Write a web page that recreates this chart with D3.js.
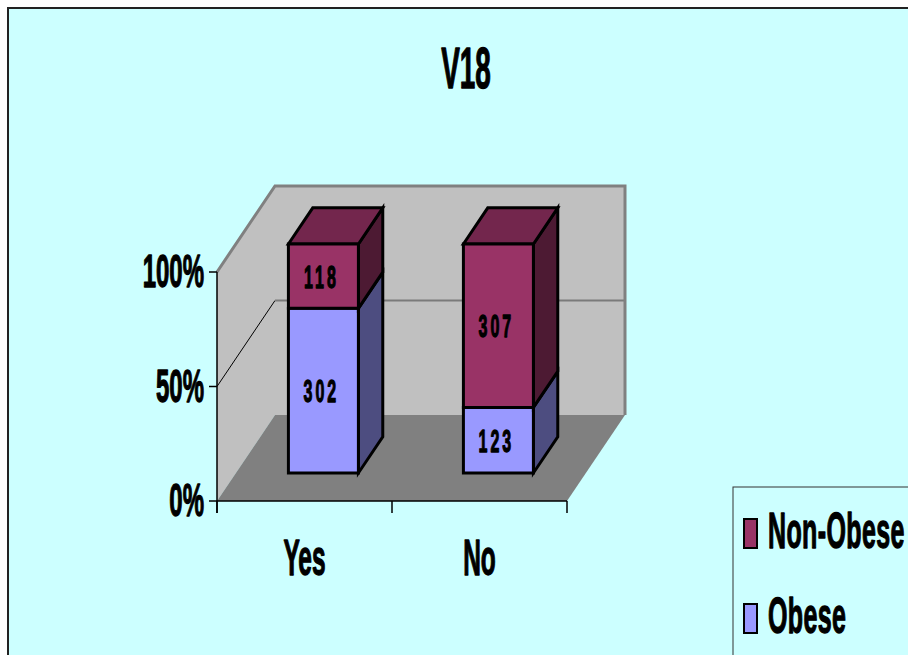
<!DOCTYPE html>
<html>
<head>
<meta charset="utf-8">
<script src="https://cdn.jsdelivr.net/npm/d3@7"></script>
<style>
  html, body { margin: 0; padding: 0; background: #ffffff; }
  svg { display: block; }
  text { font-family: "Liberation Sans", Arial, sans-serif; font-weight: bold; fill: #000;
         stroke: #000; stroke-width: 1.3px; stroke-linejoin: round; }
</style>
</head>
<body>
<script>
// ---- data ----
const chartTitle = "V18";
const categories = ["Yes", "No"];
const obese = [302, 123];
const nonObese = [118, 307];
const seriesKeys = ["obese", "nonObese"];
const seriesNames = { obese: "Obese", nonObese: "Non-Obese" };
const legendOrder = ["nonObese", "obese"];
const yTickValues = [0, 0.5, 1];

// ---- look ----
const W = 908, H = 655;
const colors = {
  obese:    { front: "#9999FF", side: "#4D4D80", top: "#7373BF" },
  nonObese: { front: "#993366", side: "#4D1A33", top: "#73264D" }
};
const depthDX = 58, depthDY = -86;      // oblique offset of the full floor depth
const barDepth = [0.326, 0.746];        // bar front / back as fraction of floor depth

const svg = d3.select("body").append("svg")
  .attr("width", W).attr("height", H);

// chart area
svg.append("rect")
  .attr("x", 8).attr("y", 8).attr("width", W + 20).attr("height", H + 20)
  .attr("fill", "#CCFFFF").attr("stroke", "#222").attr("stroke-width", 2);

// scales
const x = d3.scaleBand().domain(categories).range([217, 567]).padding(0);
const y = d3.scaleLinear().domain([0, 1]).range([501, 272]);

const rows = categories.map((c, i) => ({ cat: c, obese: obese[i], nonObese: nonObese[i] }));
const stacked = d3.stack().keys(seriesKeys).offset(d3.stackOffsetExpand)(rows);

const P = (px, py, t) => [px + depthDX * t, py + depthDY * t];
const poly = pts => "M" + pts.map(p => p.join(",")).join("L") + "Z";

const x0 = x.range()[0], x1 = x.range()[1];
const g = svg.append("g");

// back wall
const bw = [P(x0, y(1), 1), P(x1, y(1), 1), P(x1, y(0), 1), P(x0, y(0), 1)];
g.append("path").attr("d", poly(bw)).attr("fill", "#C0C0C0");
// left wall
g.append("path").attr("d", poly([[x0, y(0)], [x0, y(1)], P(x0, y(1), 1), P(x0, y(0), 1)]))
  .attr("fill", "#C0C0C0");
// floor
g.append("path").attr("d", poly([[x0, y(0)], P(x0, y(0), 1), P(x1, y(0), 1), [x1, y(0)]]))
  .attr("fill", "#808080");

// gridlines (mid value) on the walls
yTickValues.filter(v => v > 0 && v < 1).forEach(v => {
  const a = [x0, y(v)], b = P(x0, y(v), 1), c = P(x1, y(v), 1);
  g.append("line").attr("x1", a[0]).attr("y1", a[1]).attr("x2", b[0]).attr("y2", b[1])
    .attr("stroke", "#000").attr("stroke-width", 1);
  g.append("line").attr("x1", b[0]).attr("y1", b[1]).attr("x2", c[0]).attr("y2", c[1])
    .attr("stroke", "#7a7a7a").attr("stroke-width", 2);
});
// wall top and right edges
const topL = [x0, y(1)], topBL = P(x0, y(1), 1), topBR = P(x1, y(1), 1), botBR = P(x1, y(0), 1);
g.append("path").attr("d", "M" + [topL, topBL, topBR, botBR].map(p => p.join(",")).join("L"))
  .attr("fill", "none").attr("stroke", "#808080").attr("stroke-width", 3)
  .attr("stroke-linejoin", "miter");

// axes
const ax = svg.append("g").attr("stroke", "#000").attr("stroke-width", 1.5);
ax.append("line").attr("x1", x0).attr("x2", x0).attr("y1", y(1)).attr("y2", y(0) + 12);
ax.append("line").attr("x1", x0).attr("x2", x1).attr("y1", y(0)).attr("y2", y(0));
yTickValues.forEach(v => {
  ax.append("line").attr("x1", x0 - 8).attr("x2", x0).attr("y1", y(v)).attr("y2", y(v));
});
const bounds = categories.map(c => x(c)).concat([x1]);
bounds.forEach(bx => {
  ax.append("line").attr("x1", bx).attr("x2", bx).attr("y1", y(0)).attr("y2", y(0) + 12);
});

// condensed bold text helper
function label(parent, px, py, str, size, sx, anchor) {
  return parent.append("text")
    .attr("transform", `translate(${px},${py}) scale(${sx},1)`)
    .attr("text-anchor", anchor)
    .style("font-size", size + "px")
    .text(str);
}

// y tick labels
const pct = d3.format(".0%");
yTickValues.forEach(v => label(svg, x0 - 13, y(v) + 15, pct(v), 47, 0.51, "end"));

// category labels
categories.forEach(c => label(svg, x(c) + x.bandwidth() / 2, 575, c, 50, 0.49, "middle"));

// title
label(svg, 466, 88, chartTitle, 57, 0.49, "middle");

// bars
const bw0 = x.bandwidth() * 0.4;
const barsG = svg.append("g");
categories.forEach((c, ci) => {
  const left = x(c) + (x.bandwidth() - bw0) / 2;
  const right = left + bw0;
  stacked.forEach((layer, li) => {
    const key = layer.key;
    const lo = layer[ci][0], hi = layer[ci][1];
    const yl = y(lo), yh = y(hi);
    const [z0, z1] = barDepth;
    const front = [P(left, yh, z0), P(right, yh, z0), P(right, yl, z0), P(left, yl, z0)];
    const side = [P(right, yh, z0), P(right, yh, z1), P(right, yl, z1), P(right, yl, z0)];
    const top = [P(left, yh, z0), P(left, yh, z1), P(right, yh, z1), P(right, yh, z0)];
    const st = { stroke: "#000", "stroke-width": 3, "stroke-linejoin": "miter" };
    const face = (pts, fill) => {
      const p = barsG.append("path").attr("d", poly(pts)).attr("fill", fill);
      Object.entries(st).forEach(([k, v]) => p.attr(k, v));
    };
    face(side, colors[key].side);
    if (li === stacked.length - 1) face(top, colors[key].top);
    face(front, colors[key].front);
    const value = rows[ci][key];
    const cx = (front[0][0] + front[1][0]) / 2 - 2;
    const cy = (front[0][1] + front[2][1]) / 2 + 11.5;
    label(barsG, cx, cy, value, 32, 0.5, "middle").style("letter-spacing", "6px");
  });
});

// legend
const lg = svg.append("g");
lg.append("rect").attr("x", 733).attr("y", 487).attr("width", 220).attr("height", 220)
  .attr("fill", "#CCFFFF").attr("stroke", "#333").attr("stroke-width", 1);
legendOrder.forEach((key, i) => {
  const base = 548 + i * 85;
  lg.append("rect").attr("x", 744).attr("y", base - 29).attr("width", 13).attr("height", 29)
    .attr("fill", colors[key].front).attr("stroke", "#000").attr("stroke-width", 2);
  label(lg, 768, base, seriesNames[key], 50, 0.5, "start").style("letter-spacing", "0.8px");
});
</script>
</body>
</html>
